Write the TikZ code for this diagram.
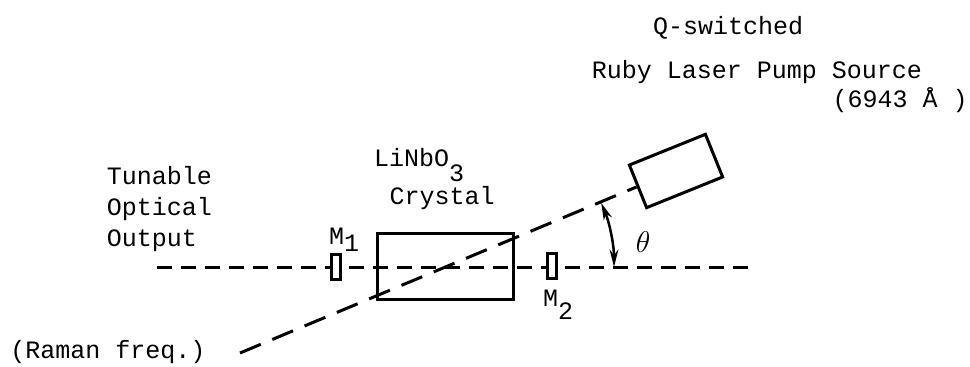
\documentclass[tikz,border=0pt]{standalone}
\usepackage{fontspec}
\setmainfont{Liberation Mono}
\usetikzlibrary{arrows.meta}
\newcommand{\drop}[2][3pt]{\raisebox{-#1}{#2}}

\begin{document}
\begin{tikzpicture}
  [x=0.4pt,y=0.4pt,line width=1.2pt,
   every node/.style={font=\fontsize{10}{12.4}\selectfont},
   part/.style={draw,inner sep=0pt},
   beam/.style={dash pattern=on 6pt off 3.6pt},
   pumpbeam/.style={dash pattern=on 9pt off 5pt},
   tip/.style={{Stealth[length=7pt,width=3.5pt]}-{Stealth[length=7pt,width=3.5pt]}}]
  \useasboundingbox (0,0) rectangle (970,-366);
  % labels
  \node (qsw) at (728,-28) {Q-switched};
  \node (ruby) at (757,-72) {Ruby Laser Pump Source};
  \node (wavel) at (900,-100) {(6943 Å )};
  \node[align=left,anchor=west] (tunable) at (97,-209) {Tunable\\Optical\\Output};
  \node (raman) at (108,-352) {(Raman freq.)};
  \node (linbo) at (419,-165) {LiNbO\drop[6pt]{3}};
  \node (crystal) at (442,-198) {Crystal};
  \node (mlabA) at (344,-240) {M\drop[3pt]{1}};
  \node (mlabB) at (558,-305) {M\drop[5pt]{2}};
  \node (theta) at (643,-242) {\large$\theta$};
  % parts
  \node[part,minimum width=54.4pt,minimum height=26.4pt] (xtal) at (445,-266) {};
  \node[part,fill=white,rotate=22,minimum width=32.8pt,minimum height=18.4pt] (laser) at (676,-171) {};
  \coordinate (outL) at (157,-267);
  \coordinate (outR) at (757,-267);
  \coordinate (ramanEnd) at (240,-353);
  \coordinate (cross) at (447,-267);
  % beams
  \draw[beam] (outL) -- (outR);
  \draw[pumpbeam] (ramanEnd) -- (laser.west);
  \draw[tip,line width=1pt] (cross) ++(0:167) arc[start angle=0,end angle=22.6,radius=167];
  % mirrors
  \node[part,fill=white,minimum width=3.6pt,minimum height=10pt] (mA) at (336,-267) {};
  \node[part,fill=white,minimum width=3.6pt,minimum height=10pt] (mB) at (552,-266) {};
\end{tikzpicture}
\end{document}
